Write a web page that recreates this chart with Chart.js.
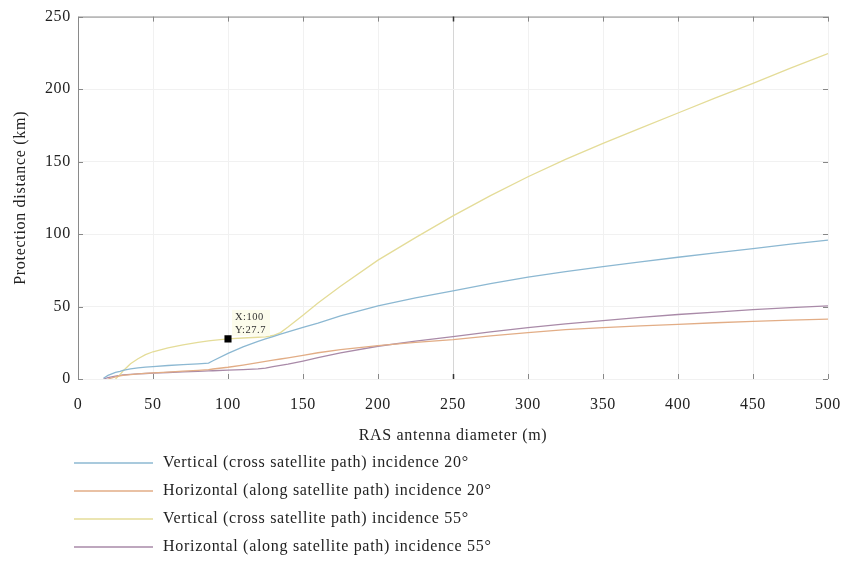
<!DOCTYPE html>
<html>
<head>
<meta charset="utf-8">
<script src="https://cdn.jsdelivr.net/npm/chart.js@4"></script>
<style>
  html, body { margin: 0; padding: 0; background: #fff; }
</style>
</head>
<body>
<canvas id="protChart" width="847" height="564"></canvas>
<script>
/* Protection distance vs RAS antenna diameter */

const diameters = [15,17,20,25,28,30,35,40,45,50, 60,70,80,87,90,100,110,120,125,130,
                   135,140,150,160,175,200,225,250,275,300, 325,350,375,400,425,450,475,500];

const vert20 = [null,0.5,2.5,4.5,5.3,6,7,7.7,8.2,8.6, 9.3,9.9,10.5,11,12.6,17.7,22.2,25.9,27.6,29.3,
                31,32.5,35.6,38.6,43.5,50.5,56,60.8,65.8,70.3, 74,77.5,80.8,84,87,90,93,95.8];
const horz20 = [null,null,0,1.5,2.2,2.5,3,3.5,3.9,4.2, 4.8,5.4,6,6.5,6.9,8.1,9.6,11.3,12.2,13,
                13.8,14.6,16.3,18.1,20.3,23,25.3,27.2,29.8,32, 34,35.5,36.7,37.7,38.8,39.7,40.6,41.3];
const vert55 = [null,null,null,0,3,5.5,10.5,14,16.8,18.8, 21.5,23.5,25.2,26.3,26.7,27.7,28.3,28.8,29.1,30,
                32,35.8,44,52.5,64,82,97.5,112.5,126.5,139.5, 151.5,162.5,173,183.5,194,204,214.5,224.5];
const horz55 = [null,0,1,2,2.5,2.8,3.2,3.5,3.8,4, 4.5,4.9,5.3,5.6,5.7,6.1,6.5,7,7.5,8.5,
                9.4,10.3,12.4,14.7,18,22.6,26.2,29.2,32.5,35.5, 38,40.3,42.5,44.5,46.2,47.8,49.2,50.5];

const seriesNames = [
  "Vertical (cross satellite path) incidence 20\u00b0",
  "Horizontal (along satellite path) incidence 20\u00b0",
  "Vertical (cross satellite path) incidence 55\u00b0",
  "Horizontal (along satellite path) incidence 55\u00b0"
];
const seriesColors = ["#8cb8d2", "#e2ad86", "#e4dc98", "#a98aa8"];

const xTicks = [0,50,100,150,200,250,300,350,400,450,500];
const yTicks = [0,50,100,150,200,250];

const tipX = 100;
const tipY = 27.7;

const FONT = "'Liberation Serif', 'DejaVu Serif', serif";
const SPACING = '0.7px';

function pts(ys) {
  return diameters.map((d, i) => ({x: d, y: ys[i]}));
}

const allSeries = [vert20, horz20, vert55, horz55];

// wider text, like the reference figure
const spacing = {
  id: 'spacing',
  beforeUpdate(chart) { chart.ctx.letterSpacing = SPACING; },
  beforeDraw(chart) { chart.ctx.letterSpacing = SPACING; }
};

const frameAndExtras = {
  id: 'frameAndExtras',
  beforeDatasetsDraw(chart) {
    const {ctx, chartArea: a, scales: {x, y}} = chart;
    ctx.save();
    // left and top box lines
    ctx.strokeStyle = '#8a8a8a';
    ctx.lineWidth = 1;
    ctx.beginPath();
    ctx.moveTo(a.left + 0.5, a.bottom);
    ctx.lineTo(a.left + 0.5, a.top + 0.5);
    ctx.lineTo(a.right, a.top + 0.5);
    ctx.stroke();
    // inward tick marks
    xTicks.forEach(v => {
      const px = Math.round(x.getPixelForValue(v)) + 0.5;
      ctx.strokeStyle = v === 250 ? '#333' : '#888';
      ctx.lineWidth = v === 250 ? 1.5 : 1;
      ctx.beginPath();
      ctx.moveTo(px, a.top); ctx.lineTo(px, a.top + 5);
      ctx.moveTo(px, a.bottom); ctx.lineTo(px, a.bottom - 5);
      ctx.stroke();
    });
    ctx.strokeStyle = '#888';
    ctx.lineWidth = 1;
    yTicks.forEach(v => {
      const py = Math.round(y.getPixelForValue(v)) + 0.5;
      ctx.beginPath();
      ctx.moveTo(a.left, py); ctx.lineTo(a.left + 5, py);
      ctx.moveTo(a.right, py); ctx.lineTo(a.right - 5, py);
      ctx.stroke();
    });
    ctx.restore();
  },
  afterDraw(chart) {
    const {ctx, scales: {x, y}} = chart;
    ctx.save();
    ctx.letterSpacing = '0.5px';
    // data tip label
    const tx = x.getPixelForValue(tipX);
    const ty = y.getPixelForValue(tipY);
    ctx.fillStyle = 'rgba(252,252,232,0.85)';
    ctx.fillRect(tx + 4, ty - 29, 38, 26);
    ctx.fillStyle = '#333';
    ctx.font = "10.5px " + FONT;
    ctx.textBaseline = 'middle';
    ctx.textAlign = 'left';
    ctx.fillText('X:' + tipX, tx + 7, ty - 22);
    ctx.fillText('Y:' + tipY, tx + 7, ty - 9);

    // legend
    ctx.letterSpacing = SPACING;
    ctx.font = "16px " + FONT;
    seriesNames.forEach((name, i) => {
      const ly = 463 + i * 28;
      ctx.strokeStyle = seriesColors[i];
      ctx.lineWidth = 1.3;
      ctx.beginPath();
      ctx.moveTo(74, ly); ctx.lineTo(153, ly);
      ctx.stroke();
      ctx.fillStyle = '#222';
      ctx.fillText(name, 163, ly);
    });
    ctx.restore();
  }
};

const datasets = allSeries.map((ys, i) => ({
  label: seriesNames[i],
  data: pts(ys),
  borderColor: seriesColors[i],
  borderWidth: 1.3,
  pointRadius: 0,
  fill: false,
  tension: 0
}));

datasets.push({
  label: 'datatip',
  data: [{x: tipX, y: tipY}],
  order: -1,
  showLine: false,
  pointStyle: 'rect',
  pointRadius: 5,
  pointBorderWidth: 0,
  pointBackgroundColor: '#000',
  pointBorderColor: '#000'
});

new Chart(document.getElementById("protChart"), {
  type: 'line',
  data: { datasets: datasets },
  options: {
    responsive: false,
    animation: false,
    events: [],
    layout: { padding: { left: 7, top: 9, right: 19, bottom: 115 } },
    plugins: {
      legend: { display: false },
      tooltip: { enabled: false }
    },
    scales: {
      x: {
        type: 'linear',
        min: 0, max: 500,
        afterBuildTicks(s) { s.ticks = xTicks.map(v => ({value: v})); },
        afterFit(s) { s.height = 70; },
        border: { display: false },
        grid: {
          drawTicks: true,
          tickLength: 16,
          tickColor: 'rgba(0,0,0,0)',
          color: c => (c.tick && c.tick.value === 250) ? '#d6d6d6' : '#f1f1f1'
        },
        ticks: { padding: 0, color: '#222', font: { family: FONT, size: 16 } },
        title: {
          display: true,
          text: 'RAS antenna diameter (m)',
          color: '#222',
          font: { family: FONT, size: 16 }
        }
      },
      y: {
        type: 'linear',
        min: 0, max: 250,
        afterBuildTicks(s) { s.ticks = yTicks.map(v => ({value: v})); },
        afterFit(s) { s.width = 71; },
        border: { display: false },
        grid: { drawTicks: false, color: '#f1f1f1' },
        ticks: { padding: 7, color: '#222', font: { family: FONT, size: 16 } },
        title: {
          display: true,
          text: 'Protection distance (km)',
          color: '#222',
          font: { family: FONT, size: 16 }
        }
      }
    }
  },
  plugins: [spacing, frameAndExtras]
});
</script>
</body>
</html>
